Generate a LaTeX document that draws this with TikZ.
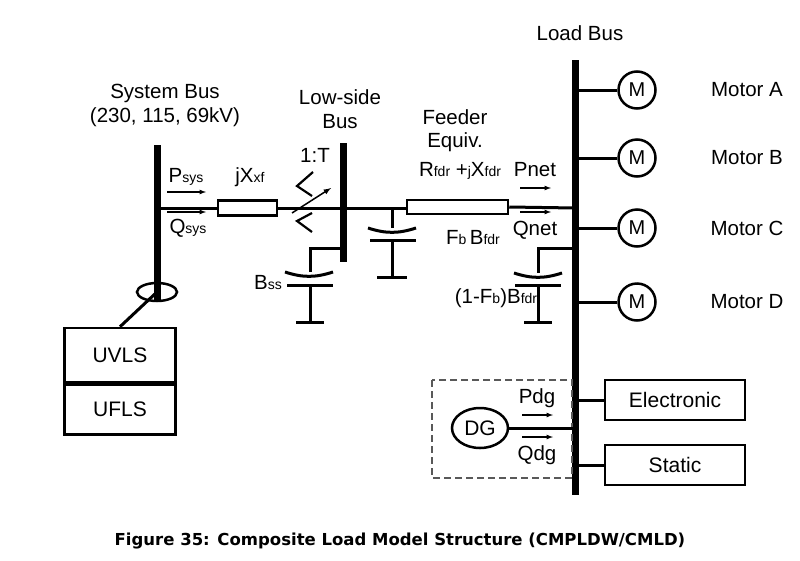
\documentclass[tikz,border=0pt]{standalone}
\usepackage{fontspec}
\usetikzlibrary{shapes.geometric}
\setmainfont{Liberation Sans}
\newfontfamily\capfont{DejaVu Sans}
\newcommand{\sbs}[1]{{\fontsize{14}{14}\selectfont #1}}
\begin{document}
\begin{tikzpicture}[x=1pt,y=-1pt,line width=3pt,
  lbl/.style={font=\fontsize{20.5}{22}\selectfont,inner sep=0pt},
  bus/.style={line width=7pt},
  box/.style={draw,line width=2.5pt,minimum width=#1,font=\fontsize{21}{22}\selectfont},
  mot/.style={draw,circle,line width=2.5pt,minimum size=37pt,inner sep=0pt,font=\fontsize{20}{22}\selectfont},
  flow/.style={-latex,line width=1.2pt}]
\useasboundingbox (0,0) rectangle (800,560);
% buses
\draw[bus] (157,145) -- (157,300);
\draw[bus] (343,143) -- (343,262);
\draw[bus] (575,60) -- (575,495);
\node[lbl] at (165,93) {System Bus};
\node[lbl] at (165,117) {(230, 115, 69kV)};
\node[lbl] at (340,97) {Low-side};
\node[lbl] at (340,122) {Bus};
\node[lbl] at (580,33) {Load Bus};
% main line
\draw (157,208) -- (218,208);
\node[draw,line width=2.5pt,minimum width=59pt,minimum height=15pt,inner sep=0pt] (xf) at (247.5,208) {};
\draw (xf.east) -- (407,208);
\node[draw,line width=2.5pt,minimum width=101pt,minimum height=14pt,inner sep=0pt] (fdr) at (457.5,207) {};
\draw (fdr.east) -- (575,208);
\node[lbl] at (250,177) {jX\sbs{xf}};
\node[lbl] at (186,177) {P\sbs{sys}};
\draw[flow] (167,192) -- (206,192);
\draw[flow] (167,212) -- (206,212);
\node[lbl] at (188,228) {Q\sbs{sys}};
% transformer
\draw[line width=2.2pt] (313,172) -- (297,186) -- (312,196);
\draw[line width=2.2pt] (312,213) -- (297,221) -- (312,232);
\draw[line width=1.5pt,-latex] (292,213) -- (331,188);
\node[lbl] at (315,155) {1:T};
% Bss
\draw (343,248) -- (310,248) -- (310,272);
\draw (285,272) to[bend right=18] (333,272);
\draw (287,285) -- (333,285);
\draw (310,285) -- (310,322);
\draw (296,322) -- (324,322);
\node[lbl] at (268,283) {B\sbs{ss}};
% FbBfdr
\draw (392,208) -- (392,228);
\draw (368,228) to[bend right=18] (416,228);
\draw (370,240) -- (416,240);
\draw (392,240) -- (392,277);
\draw (377,277) -- (407,277);
\node[lbl] at (473,238) {F\sbs{b}\,B\sbs{fdr}};
\node[lbl] at (455,117) {Feeder};
\node[lbl] at (455,142) {Equiv.};
\node[lbl] at (460,171) {R\sbs{fdr} +\sbs{j}X\sbs{fdr}};
\node[lbl] at (535,170) {Pnet};
\draw[flow] (520,188) -- (551,188);
\draw[flow] (520,212) -- (551,212);
\node[lbl] at (535,230) {Qnet};
% (1-Fb)Bfdr
\draw (575,248) -- (538,248) -- (538,273);
\draw (514,273) to[bend right=18] (562,273);
\draw (515,285) -- (561,285);
\draw (538,285) -- (538,322);
\draw (524,322) -- (552,322);
\node[lbl] at (496,298) {(1-F\sbs{b})B\sbs{fdr}};
% motors
\foreach \y/\n in {90/A,158/B,228/C,302/D}{
  \node[mot] (m\n) at (637,\y) {M};
  \draw (575,\y) -- (m\n);
  \node[lbl] at (747,\y) {Motor \n};
}
% loads
\node[box=140pt,minimum height=40pt] (el) at (675,400) {Electronic};
\node[box=140pt,minimum height=40pt] (st) at (675,465) {Static};
\draw (575,400) -- (el);
\draw (575,465) -- (st);
% DG
\draw[dash pattern=on 7pt off 4pt,line width=1.3pt,gray!70!black] (432,380) rectangle (572,478);
\node[draw,ellipse,line width=2.5pt,minimum width=56pt,minimum height=40pt,inner sep=0pt,font=\fontsize{21}{22}\selectfont] (dg) at (480,428) {DG};
\draw (dg.east) -- (575,428);
\node[lbl] at (537,398) {Pdg};
\draw[flow] (522,415) -- (553,415);
\draw[flow] (522,437) -- (553,437);
\node[lbl] at (537,455) {Qdg};
% UVLS/UFLS
\node[box=111pt,minimum height=54pt] (uv) at (120,355) {UVLS};
\node[box=111pt,minimum height=50pt,anchor=north] (uf) at (uv.south) {UFLS};
\node[draw,ellipse,line width=2.5pt,minimum width=40pt,minimum height=18pt,inner sep=0pt] (ring) at (157,292) {};
\draw (ring.center) -- (uv.north);
\node[font=\capfont\bfseries\fontsize{16.5}{18}\selectfont] at (400,541) {Figure 35: Composite Load Model Structure (CMPLDW/CMLD)};
\end{tikzpicture}
\end{document}
